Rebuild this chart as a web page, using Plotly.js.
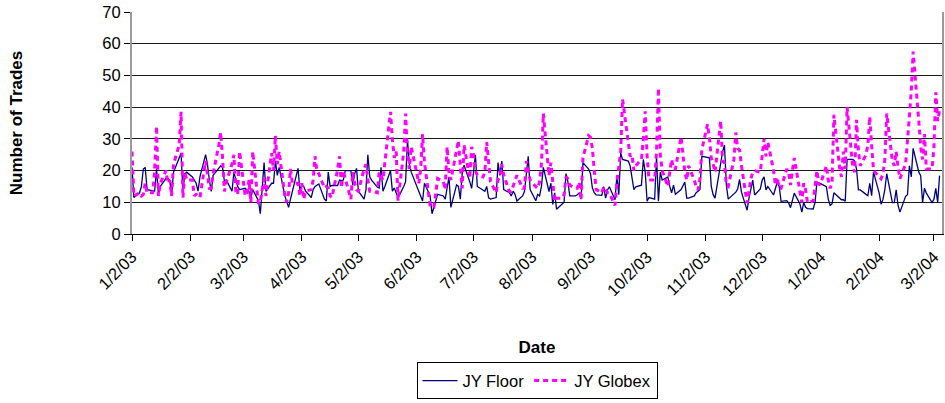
<!DOCTYPE html>
<html>
<head>
<meta charset="utf-8">
<script src="https://cdn.plot.ly/plotly-3.0.1.min.js"></script>
<style>html,body{margin:0;padding:0;background:#fff;}</style>
</head>
<body>
<div id="chart" style="width:945px;height:403px"></div>
<script>
// Trading days (weekdays) from first to last date
const firstDate = '2003-01-02';
const lastDate = '2004-03-05';

// JY Floor: number of trades per day, month by month
const floorTrades = [
  // Jan 03
  21,11.5, 13,15,20.5,21,14, 13.5,13.5,20.5,12.5,15, 17.5,17.5,17,12,19.5, 24,25.5,13.5,19,19.5,
  // Feb 03
  18,17,16,13.5,18, 25,22,17,13.4,18.5, 20.5,21.5,21,16.5,17, 13.5,19.5,17,15,14,
  // Mar 03
  14.4,13.5,13.4,11.4,14, 10.5,6.4,14.4,22.5,13.4, 16,16,23,18.5,21, 12,10,8.4,11,13.4, 20.7,
  // Apr 03
  13.5,15.5,15,13.5, 11.5,14,15,15.4,15.8, 11,10.4,19.5,15,15.3, 15.3,17,16.8,17,20, 20,15.4,19,
  // May 03
  20.7,13.5, 11,14,25,18,17, 14.8,14.5,21,13.5,15, 20,13.5,14.5,13,11.4, 15,16.5,29.6,22,19.5,
  // Jun 03
  15,13.4,12.5,10.4,16, 12,6.4,8.7,11,12.5, 12,11,14.5,18,8.4, 15.5,15,11,19,21.7, 16.5,
  // Jul 03
  14.4,19.5,25,15, 14,13.5,15,11.4,11, 11.5,22.5,18.5,23,14, 13,12,13.5,12.5,10.4, 12,13.4,19.5,24.5,
  // Aug 03
  14, 10.5,12.5,12,15,21, 13.4,16,9.3,13,7.8, 9.3,10,19,16.5,12, 12,12.4,12.9,11,22.5,
  // Sep 03
  20.5,19,14.5,13,12.3, 12.2,14.9,11.3,13.9,14.9, 10.8,18.4,12.4,25.5,23.5, 23,21.5,18,14,14.9, 15.4,23.5,
  // Oct 03
  19.5,10.3,11.5, 11,24.5,10.3,19.5,17, 18,15,13,15.4,12.5, 14,15,16.4,11.3,11.3, 12,13,13.5,14,24.5,
  // Nov 03
  24.3,24,15,12.4,11.3, 23,26,28,15.4,11, 12.8,13.2,14.2,17.2,13.2, 7.5,11.3,14.2,17,12.3,
  // Dec 03
  14.2,17,18,13.9,15, 12.3,14.5,16.4,15,10.3, 10.5,9.8,8.3,10.8,12.9, 9.5,6.9,9.9,8.4,8, 7.9,9.9,16.4,
  // Jan 04
  16,15.9, 14.9,11,9,9.5,13, 11.3,10.8,10.8,10.3,23.5, 23.5,23,20.5,13.9,13.9, 12.5,12.1,16,12.1,19.5,
  // Feb 04
  12.9,9.4,10.9,14,19, 9.9,9.9,13.9,9,6.9, 11.9,12.4,21.5,18,27, 19.5,18.4,9.9,14.4,12.9,
  // Mar 04
  9.9,10.9,14.4,9.9,18.4
];

// JY Globex: number of trades per day, month by month
const globexTrades = [
  // Jan 03
  26,12, 13,12,12.5,16,13, 13,20,34,12,16, 20,16,17,12,22, 28,38.5,11.5,19.5,17,
  // Feb 03
  17,12,12.5,12,11.5, 23,18.5,14.4,14.4,19, 28,32,24,13.4,16.5, 22,25,13.4,12.4,26,
  // Mar 03
  12,13,17,10,26, 9.5,10.4,13.4,17.5,12, 25.5,20,31,22,26, 12,10,13,20.5,16, 16,
  // Apr 03
  12,16,11,13.5, 14,17,24.5,20,19, 14.5,15,14.5,12,11.5, 20.5,24.5,14.5,20,17.5, 11,19.5,16,
  // May 03
  14,13.5, 20.5,22,17,13.5,13.5, 13,19.5,18,17,22.5, 38.5,30,24,26,10.5, 26,38,25,20.5,27.5,
  // Jun 03
  19,16,20.5,31.5,22.5, 9,8.4,8.4,13,17.5, 16.5,14,27.5,19.5,17, 26,29.5,21.5,14.4,28, 17.5,
  // Jul 03
  27.5,25,20,18.5, 18,19.5,29,22,16.5, 13,17,18,22,18.5, 13.4,13.4,15,16.5,18.5, 14.4,14.4,23,20,
  // Aug 03
  17, 14.9,14.4,16.4,22,38, 18.4,22.5,15.4,10.3,11.3, 11.3,12.4,18,17.4,15.4, 14.4,14.4,16.4,10.8,24,
  // Sep 03
  31,30.5,27,20,14, 13,14.9,14,13,12.9, 9,16.4,21,26,42.5, 30,24.5,25,20,21.5, 23.5,30,
  // Oct 03
  38.7,24.5,17, 17,26,46,25,20, 15,19.5,23.5,20.5,20.5, 30.6,24,19.5,17,21.5, 17,15,13.9,17.4,26.5,
  // Nov 03
  34.6,30.6,24,22,19.5, 35.7,23,22.5,15.4,15, 23.5,32,27,26.5,21.5, 9.8,14.4,17.4,19.5,20,
  // Dec 03
  19.5,24.5,30,24.5,29, 20,15.4,17.9,14.4,14.4, 20.5,19.5,15.4,20,24, 13.4,10,16,14,9.9, 10.4,15,20,
  // Jan 04
  15.4,16, 21.5,17,14.4,16,37.6, 21,18,26,20.5,40, 21,19.5,36,26,21.5, 25,28,37,28,20,
  // Feb 04
  18,17.4,19,23.5,38, 23,21.5,26,21,17.4, 22,28.5,37,45,57.5, 35.6,27.5,23.5,31.5,20.5,
  // Mar 04
  20.5,27,44.7,35.6,39
];

// Axis ticks
const tickDates = ['2003-01-02','2003-02-02','2003-03-02','2003-04-02','2003-05-02','2003-06-02',
  '2003-07-02','2003-08-02','2003-09-02','2003-10-02','2003-11-02','2003-12-02',
  '2004-01-02','2004-02-02','2004-03-02'];
const tickLabels = ['1/2/03','2/2/03','3/2/03','4/2/03','5/2/03','6/2/03','7/2/03','8/2/03',
  '9/2/03','10/2/03','11/2/03','12/2/03','1/2/04','2/2/04','3/2/04'];

function tradingDays(a, b) {
  const out = [];
  const d = new Date(a + 'T00:00:00Z');
  const end = new Date(b + 'T00:00:00Z');
  while (d <= end) {
    const wd = d.getUTCDay();
    if (wd !== 0 && wd !== 6) out.push(d.toISOString().slice(0, 10));
    d.setUTCDate(d.getUTCDate() + 1);
  }
  return out;
}

const dates = tradingDays(firstDate, lastDate);
const n = Math.min(dates.length, floorTrades.length, globexTrades.length);

const FONT = 'Liberation Sans, Arial, Helvetica, sans-serif';

const traces = [
  {
    type: 'scatter', mode: 'lines', name: 'JY Floor',
    x: dates.slice(0, n), y: floorTrades.slice(0, n),
    line: {color: '#000080', width: 1.3}
  },
  {
    type: 'scatter', mode: 'lines', name: 'JY Globex',
    x: dates.slice(0, n), y: globexTrades.slice(0, n),
    line: {color: '#FF00FF', width: 3, dash: '5px,4px'}
  }
];

const layout = {
  width: 945, height: 403,
  margin: {l: 132, r: 3, t: 12, b: 159, pad: 0},
  paper_bgcolor: '#ffffff', plot_bgcolor: '#ffffff',
  font: {family: FONT, size: 16.5, color: '#000'},
  showlegend: true,
  legend: {
    orientation: 'h', x: 0.5, xanchor: 'center', y: -0.578, yanchor: 'top',
    bordercolor: '#000', borderwidth: 1, font: {family: FONT, size: 16.5, color: '#000'},
    itemwidth: 35, tracegroupgap: 0
  },
  xaxis: {
    type: 'date',
    range: ['2003-01-02', '2004-03-06 07:00'],
    tickmode: 'array', tickvals: tickDates, ticktext: tickLabels,
    tickangle: -45, ticks: 'outside', ticklen: 6, tickcolor: '#000', tickwidth: 1,
    tickfont: {family: FONT, size: 16.5, color: '#000'},
    showline: true, linecolor: '#000', linewidth: 1,
    showgrid: false, zeroline: false, automargin: false,
    title: {text: 'Date', font: {family: FONT, size: 17, color: '#000', weight: 'bold'}, standoff: 42}
  },
  yaxis: {
    range: [0, 70], tickmode: 'linear', tick0: 0, dtick: 10,
    ticks: 'outside', ticklen: 6, tickcolor: '#000', tickwidth: 1,
    tickfont: {family: FONT, size: 16.5, color: '#000'},
    showline: true, mirror: true, linecolor: '#9a9a9a', linewidth: 2,
    showgrid: true, gridcolor: '#1a1a1a', gridwidth: 1, zeroline: false, automargin: false,
    title: {text: 'Number of Trades', font: {family: FONT, size: 17, color: '#000', weight: 'bold'}, standoff: 75}
  }
};

Plotly.newPlot('chart', traces, layout, {displayModeBar: false, staticPlot: true});
</script>
</body>
</html>
